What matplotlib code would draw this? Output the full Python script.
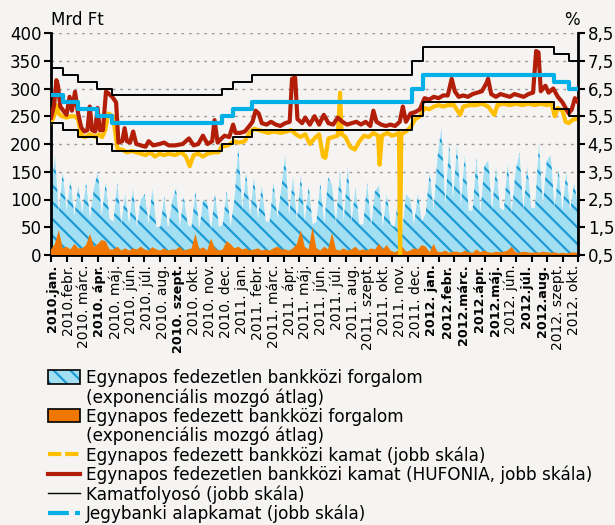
import numpy as np
import matplotlib.pyplot as plt
from matplotlib.patches import Patch
from matplotlib.lines import Line2D
from matplotlib.legend_handler import HandlerTuple

plt.rcParams['font.family'] = ['DejaVu Sans']
plt.rcParams['hatch.color'] = '#1c9bd6'
plt.rcParams['hatch.linewidth'] = 1.6

# x tick labels (one per month, 2010 jan .. 2012 okt)
month_labels = ['2010.jan.', '2010.febr.', '2010. márc.', '2010. ápr.', '2010. máj.', '2010. jún.',
                '2010. júl.', '2010. aug.', '2010. szept.', '2010. okt.', '2010. nov.', '2010. dec.',
                '2011. jan.', '2011. febr.', '2011. márc.', '2011. ápr.', '2011. máj.', '2011. jún.',
                '2011. júl.', '2011. aug.', '2011. szept.', '2011. okt.', '2011. nov.', '2011. dec.',
                '2012. jan.', '2012.febr.', '2012.márc.', '2012.ápr.', '2012.máj.', '2012. jún.',
                '2012.júl.', '2012.aug.', '2012. szept.', '2012. okt.']
bold_labels = [0, 3, 8, 24, 25, 26, 27, 28, 30, 31]

# unsecured overnight turnover (Mrd Ft), 4 readings per month
unsecured_turnover = [
    110, 180, 75, 150,  80, 135, 70, 125,  75, 130, 65, 120,  150, 70, 130, 65,
    60, 130, 55, 110,  55, 120, 50, 100,  110, 55, 120, 50,  50, 105, 45, 95,
    120, 50, 105, 55,  50, 115, 45, 100,  95, 45, 110, 50,  55, 115, 50, 100,
    195, 80, 150, 70,  140, 65, 125, 60,  60, 130, 65, 120,  180, 70, 140, 60,
    145, 60, 125, 55,  60, 130, 55, 140,  125, 55, 150, 60,  160, 60, 120, 55,
    55, 130, 50, 115,  125, 50, 110, 55,  50, 105, 45, 110,  100, 55, 110, 60,
    75, 150, 80, 175,  230, 90, 200, 100,  200, 90, 180, 80,  80, 175, 75, 160,
    170, 80, 160, 85,  80, 165, 75, 150,  185, 80, 160, 85,  85, 200, 90, 170,
    180, 85, 155, 80,  150, 80, 130, 90]

# secured overnight turnover (Mrd Ft), 4 readings per month
secured_turnover = [
    10, 20, 45, 12,  15, 10, 20, 12,  12, 18, 38, 15,  20, 27, 25, 10,
    10, 15, 8, 12,  8, 12, 10, 15,  10, 8, 14, 10,  8, 12, 8, 10,
    10, 15, 8, 10,  12, 38, 10, 14,  8, 30, 12, 8,  10, 25, 20, 12,
    15, 10, 12, 8,  10, 12, 8, 10,  8, 12, 15, 10,  10, 8, 12, 20,
    45, 15, 10, 50,  12, 8, 15, 10,  40, 10, 8, 12,  8, 10, 15, 8,
    10, 8, 12, 10,  20, 10, 18, 8,  5, 8, 15, 6,  8, 12, 10, 18,
    15, 5, 20, 6,  5, 8, 4, 6,  6, 4, 8, 5,  4, 10, 5, 8,
    5, 4, 6, 5,  6, 8, 15, 5,  4, 6, 5, 4,  5, 4, 6, 5,
    4, 5, 3, 4,  3, 4, 5, 3]

# secured overnight rate (%), month position / value
secured_m = [0.0, 0.2, 0.35, 0.5, 0.7, 1.0, 1.3, 1.5, 1.75, 1.95, 2.2, 2.5, 2.7, 2.9, 3.1, 3.3,
             3.5, 3.7, 4.0, 4.3, 4.6, 4.9, 5.2, 5.5, 5.8, 6.1, 6.4, 6.7, 7.0, 7.3, 7.6, 8.0,
             8.4, 8.7, 8.95, 9.2, 9.5, 9.8, 10.1, 10.5, 10.8, 11.0, 11.4, 11.8, 12.1, 12.5,
             12.8, 13.1, 13.4, 13.7, 14.0, 14.4, 14.8, 15.2, 15.5, 15.8, 16.1, 16.4, 16.7,
             17.0, 17.3, 17.55, 17.7, 17.9, 18.2, 18.5, 18.65, 18.75, 19.0, 19.3, 19.6, 19.9,
             20.2, 20.5, 20.8, 21.1, 21.2, 21.35, 21.7, 22.0, 22.3, 22.45, 22.52, 22.6, 22.9,
             23.2, 23.5, 23.8, 24.1, 24.4, 24.7, 25.0, 25.3, 25.6, 26.0, 26.4, 26.6, 27.0,
             27.4, 27.8, 28.2, 28.6, 28.8, 29.2, 29.6, 30.0, 30.4, 30.8, 31.2, 31.6, 32.0,
             32.3, 32.5, 32.7, 33.0, 33.2, 33.4, 33.6, 33.8, 34.0]
secured_rate = [5.3, 5.5, 5.9, 5.6, 5.5, 5.45, 5.5, 5.5, 5.4, 4.8, 4.75, 4.85, 4.8, 4.75, 4.85, 4.75,
                5.0, 5.6, 5.5, 4.3, 4.3, 4.2, 4.25, 4.2, 4.15, 4.1, 4.2, 4.05, 4.15, 4.1, 4.15, 4.1,
                4.2, 4.05, 3.7, 4.1, 4.15, 4.05, 4.15, 4.2, 4.2, 4.4, 4.45, 4.6, 4.55, 4.6,
                4.9, 5.05, 5.0, 4.95, 4.9, 4.95, 4.9, 4.95, 5.0, 4.85, 4.75, 4.85, 4.5,
                4.7, 4.85, 4.05, 4.0, 4.7, 4.75, 4.8, 6.35, 4.85, 4.75, 4.4, 4.3, 4.6,
                4.8, 4.75, 4.9, 4.8, 3.75, 4.8, 4.9, 4.8, 4.85, 4.9, 0.5, 4.85, 4.95,
                5.1, 5.4, 5.5, 5.8, 5.75, 5.85, 5.9, 5.85, 5.9, 5.9, 5.55, 5.85, 5.9,
                5.9, 5.95, 5.85, 5.55, 5.9, 5.95, 5.9, 5.95, 5.9, 5.95, 5.9, 5.95, 5.9,
                5.95, 5.5, 5.8, 5.7, 5.3, 5.25, 5.35, 5.4, 5.4]

# HUFONIA (%), month position / value
hufonia_m = [0.0, 0.2, 0.35, 0.45, 0.6, 0.8, 1.0, 1.2, 1.35, 1.55, 1.75, 1.95, 2.15, 2.35, 2.5,
             2.65, 2.85, 3.0, 3.15, 3.35, 3.55, 3.75, 3.95, 4.2, 4.35, 4.6, 4.75, 4.9, 5.1, 5.3,
             5.5, 5.8, 6.1, 6.3, 6.6, 7.0, 7.3, 7.6, 8.0, 8.5, 8.9, 9.2, 9.5, 9.8, 10.1, 10.4,
             10.55, 10.75, 11.0, 11.2, 11.5, 11.75, 11.9, 12.2, 12.5, 12.8, 13.0, 13.2, 13.4,
             13.6, 13.9, 14.2, 14.5, 14.8, 15.1, 15.4, 15.55, 15.75, 15.9, 16.2, 16.4, 16.7,
             17.0, 17.3, 17.6, 17.9, 18.2, 18.5, 18.8, 19.1, 19.4, 19.7, 20.0, 20.3, 20.6,
             20.8, 21.0, 21.3, 21.6, 21.9, 22.2, 22.5, 22.7, 22.9, 23.2, 23.5, 23.8, 24.1,
             24.4, 24.7, 25.0, 25.3, 25.6, 25.85, 26.05, 26.3, 26.6, 26.9, 27.2, 27.5, 27.8,
             28.1, 28.2, 28.4, 28.7, 29.0, 29.3, 29.6, 29.9, 30.2, 30.5, 30.8, 31.1, 31.3,
             31.45, 31.6, 31.9, 32.1, 32.4, 32.7, 33.0, 33.2, 33.4, 33.6, 33.8, 34.0]
hufonia_rate = [5.45, 5.9, 6.8, 6.6, 5.85, 5.7, 5.55, 6.2, 5.7, 6.38, 5.6, 5.1, 4.95, 5.0, 5.85,
                5.0, 4.95, 5.8, 5.0, 5.0, 6.4, 6.3, 6.2, 6.0, 4.55, 4.6, 5.07, 4.6, 4.55, 4.95,
                4.5, 4.45, 4.4, 4.6, 4.45, 4.5, 4.55, 4.45, 4.45, 4.5, 4.7, 4.45, 4.5, 4.8, 4.5, 4.6,
                5.36, 4.55, 4.7, 4.8, 4.75, 5.2, 4.9, 4.9, 4.95, 5.15, 5.3, 5.7, 5.6,
                5.25, 5.2, 5.3, 5.2, 5.15, 5.25, 5.3, 6.85, 6.9, 5.4, 5.25, 5.45, 5.2,
                5.5, 5.2, 5.55, 5.25, 5.2, 5.45, 5.3, 5.2, 5.25, 5.3, 5.2, 5.3, 5.15,
                5.7, 5.3, 5.2, 5.15, 5.2, 5.15, 5.3, 5.85, 5.3, 5.6, 5.65, 5.75, 6.15,
                6.1, 6.2, 6.15, 6.25, 6.25, 6.85, 6.4, 6.2, 6.25, 6.2, 6.3, 6.35, 6.4,
                6.7, 6.85, 6.3, 6.2, 6.3, 6.25, 6.2, 6.3, 6.25, 6.2, 6.3, 6.35, 7.85,
                7.8, 6.4, 6.6, 6.35, 6.5, 6.2, 6.0, 5.8, 5.6, 5.75, 6.15, 6.0]

# central bank base rate (%), change positions in months
base_m = [0.0, 0.79, 1.76, 2.95, 3.92, 11.05, 11.76, 12.97, 23.3, 24.03, 32.48, 33.42, 34.0]
base_rate = [6.25, 6.0, 5.75, 5.5, 5.25, 5.5, 5.75, 6.0, 6.5, 7.0, 6.75, 6.5, 6.5]
corridor_width = 1.0

left_ticks = [0, 50, 100, 150, 200, 250, 300, 350, 400]
right_ticks = [0.5, 1.5, 2.5, 3.5, 4.5, 5.5, 6.5, 7.5, 8.5]
right_labels = ['0,5', '1,5', '2,5', '3,5', '4,5', '5,5', '6,5', '7,5', '8,5']

bg = '#f5f4f2'
c_area = '#a3dff2'
c_hatch = '#1c9bd6'
c_orange = '#f07800'
c_yellow = '#ffbf00'
c_red = '#b21e08'
c_blue = '#00b0e6'

fig = plt.figure(figsize=(6.15, 5.25), dpi=100, facecolor=bg)
ax = fig.add_axes([51 / 615, 1 - 255 / 525, 527 / 615, 222 / 525])
ax.set_facecolor(bg)

turn_x = np.linspace(0, 34, len(unsecured_turnover))
ax.fill_between(turn_x, 0, unsecured_turnover, facecolor=c_area, edgecolor=c_hatch,
                hatch='\\\\', linewidth=0, zorder=2)
ax.fill_between(turn_x, 0, secured_turnover, facecolor=c_orange, linewidth=0, zorder=3)

ax.set_xlim(0, 34)
ax.set_ylim(0, 400)
ax.set_yticks(left_ticks)
ax.set_yticklabels([str(t) for t in left_ticks])
for t in left_ticks[1:]:
    ax.axhline(t, color='#9a9a9a', lw=1, ls=(0, (2, 3.5)), zorder=1)

ax.set_xticks(range(35))
ax.set_xticklabels([])
ax.set_xticks(np.linspace(0.07, 33.75, 34), minor=True)
ax.set_xticklabels(month_labels, minor=True, rotation=90, fontsize=10)
for i, lab in enumerate(ax.get_xticklabels(minor=True)):
    if i in bold_labels:
        lab.set_fontweight('bold')
        lab.set_fontsize(9.2)
ax.tick_params(axis='x', which='major', direction='out', length=5, width=1.5)
ax.tick_params(axis='x', which='minor', length=0, pad=7)
ax.tick_params(axis='y', direction='out', length=5, width=1.5, labelsize=12, pad=2)

for s in ['top', 'right']:
    ax.spines[s].set_visible(False)
for s in ['left', 'bottom']:
    ax.spines[s].set_linewidth(2)

ax2 = ax.twinx()
ax2.set_ylim(0.5, 8.5)
ax2.set_yticks(right_ticks)
ax2.set_yticklabels(right_labels)
ax2.tick_params(axis='y', direction='out', length=5, width=1.5, labelsize=12, pad=2)
for s in ['top', 'left', 'bottom']:
    ax2.spines[s].set_visible(False)
ax2.spines['right'].set_linewidth(2)

ax2.plot(secured_m, secured_rate, color=c_yellow, lw=3.0, zorder=2, solid_joinstyle='round')
ax2.plot(hufonia_m, hufonia_rate, color=c_red, lw=3.0, zorder=3, solid_joinstyle='round')
upper = [b + corridor_width for b in base_rate]
lower = [b - corridor_width for b in base_rate]
ax2.step(base_m, upper, where='post', color='black', lw=1.4, zorder=4)
ax2.step(base_m, lower, where='post', color='black', lw=1.4, zorder=4)
ax2.step(base_m, base_rate, where='post', color=c_blue, lw=3.0, zorder=5)

fig.text(51 / 615, 1 - 20 / 525, 'Mrd Ft', fontsize=12, ha='left', va='center')
fig.text(572 / 615, 1 - 20 / 525, '%', fontsize=12, ha='center', va='center')

blank = Line2D([], [], color='none')
h_area = (Patch(facecolor=c_area, hatch='\\\\', linewidth=0),
          Patch(facecolor='none', edgecolor='black', linewidth=1.2))
h_orange = Patch(facecolor=c_orange, edgecolor='black', linewidth=1.2)
h_yellow = Line2D([], [], color=c_yellow, lw=3, dashes=(3.2, 0.9))
h_red = Line2D([], [], color=c_red, lw=3)
h_black = Line2D([], [], color='black', lw=1)
h_blue = Line2D([], [], color=c_blue, lw=3, dashes=(5, 1.5, 1.2, 1.5))
handles = [h_area, blank, h_orange, blank, h_yellow, h_red, h_black, h_blue]
labels = ['Egynapos fedezetlen bankközi forgalom', '(exponenciális mozgó átlag)',
          'Egynapos fedezett bankközi forgalom', '(exponenciális mozgó átlag)',
          'Egynapos fedezett bankközi kamat (jobb skála)',
          'Egynapos fedezetlen bankközi kamat (HUFONIA, jobb skála)',
          'Kamatfolyosó (jobb skála)', 'Jegybanki alapkamat (jobb skála)']
fig.legend(handles, labels, loc='upper left', bbox_to_anchor=(48 / 615, 1 - 369 / 525),
           frameon=False, fontsize=12.2, handlelength=1.9, handleheight=0.85,
           handletextpad=0.35, labelspacing=0.06, borderpad=0, borderaxespad=0,
           handler_map={tuple: HandlerTuple(ndivide=1, pad=0)})

fig.savefig('out.png', dpi=100, facecolor=bg)
